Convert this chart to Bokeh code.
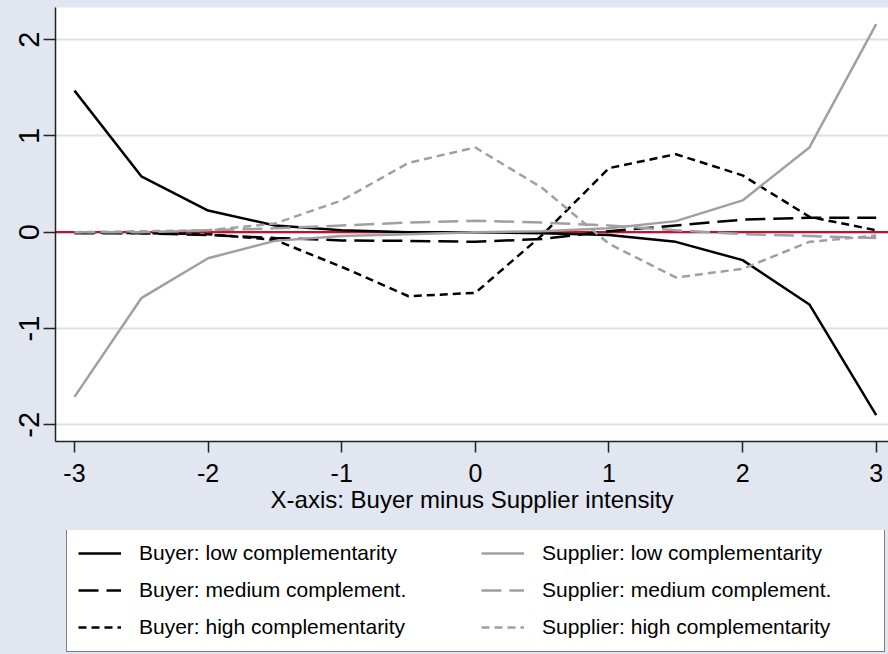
from bokeh.plotting import figure
from bokeh.layouts import column
from bokeh.models import Range1d, FixedTicker, Legend, LegendItem, Span
from bokeh.embed import file_html
from bokeh.resources import INLINE

# Horizontal axis: buyer minus supplier intensity
intensity = [-3, -2.5, -2, -1.5, -1, -0.5, 0, 0.5, 1, 1.5, 2, 2.5, 3]

# Buyer series
buyer_low = [1.47, 0.58, 0.225, 0.07, 0.02, 0.0, 0.0, -0.01, -0.03, -0.10, -0.29, -0.75, -1.90]
buyer_medium = [-0.01, -0.01, -0.03, -0.06, -0.085, -0.09, -0.10, -0.07, 0.01, 0.07, 0.13, 0.15, 0.15]
buyer_high = [0.0, -0.01, -0.02, -0.08, -0.36, -0.665, -0.63, -0.03, 0.665, 0.81, 0.59, 0.16, 0.02]

# Supplier series
supplier_low = [-1.71, -0.685, -0.27, -0.09, -0.04, -0.02, 0.0, 0.01, 0.04, 0.115, 0.33, 0.88, 2.16]
supplier_medium = [0.0, 0.0, 0.02, 0.04, 0.07, 0.10, 0.12, 0.10, 0.07, 0.02, -0.02, -0.04, -0.06]
supplier_high = [0.0, 0.01, 0.02, 0.09, 0.33, 0.72, 0.88, 0.46, -0.12, -0.47, -0.38, -0.10, -0.035]

x_ticks = [-3, -2, -1, 0, 1, 2, 3]
y_ticks = [-2, -1, 0, 1, 2]

buyer_labels = [
    "Buyer: low complementarity",
    "Buyer: medium complement.",
    "Buyer: high complementarity",
]
supplier_labels = [
    "Supplier: low complementarity",
    "Supplier: medium complement.",
    "Supplier: high complementarity",
]

FONT = "Liberation Sans"
BG = "#E1E6F0"
BLACK = "#000000"
GRAY = "#A0A0A0"
LONG_DASH = "20 8"
SHORT_DASH = "8 5"
DASHES = ["solid", LONG_DASH, SHORT_DASH]
LW = 2.5

buyer_series = [buyer_low, buyer_medium, buyer_high]
supplier_series = [supplier_low, supplier_medium, supplier_high]

# ---- main chart ----
p = figure(
    width=888, height=530,
    output_backend="svg", toolbar_location=None,
    x_range=Range1d(-3.142, 3.092), y_range=Range1d(-2.173, 2.333),
    min_border_left=55, min_border_right=0, min_border_top=7, min_border_bottom=89,
)
p.background_fill_color = "white"
p.border_fill_color = BG
p.outline_line_color = None

# zero reference line
p.add_layout(Span(location=0, dimension="width", line_color="#C8102E",
                  line_width=2.2, level="underlay"))

for ys, d in zip(buyer_series, DASHES):
    p.line(intensity, ys, line_color=BLACK, line_width=LW, line_dash=d)
for ys, d in zip(supplier_series, DASHES):
    p.line(intensity, ys, line_color=GRAY, line_width=LW, line_dash=d)

p.xaxis.ticker = FixedTicker(ticks=x_ticks)
p.yaxis.ticker = FixedTicker(ticks=y_ticks)
p.xaxis.major_label_overrides = {t: f"{t}" for t in x_ticks}
p.yaxis.major_label_overrides = {t: f"{t}" for t in y_ticks}
for ax in (p.xaxis[0], p.yaxis[0]):
    ax.axis_line_color = "#222222"
    ax.axis_line_width = 1.5
    ax.major_tick_line_color = "#222222"
    ax.major_tick_line_width = 1.5
    ax.major_tick_in = 0
    ax.minor_tick_line_color = None
    ax.major_label_text_font = FONT
    ax.major_label_text_color = "black"

p.xaxis.major_tick_out = 11
p.xaxis.major_label_text_font_size = "25px"
p.xaxis.major_label_standoff = 11
p.xaxis.axis_label = "X-axis: Buyer minus Supplier intensity"
p.xaxis.axis_label_text_font = FONT
p.xaxis.axis_label_text_font_size = "24px"
p.xaxis.axis_label_text_font_style = "normal"
p.xaxis.axis_label_text_color = "black"
p.xaxis.axis_label_standoff = 1

p.yaxis.major_tick_out = 12
p.yaxis.major_label_text_font_size = "29px"
p.yaxis.major_label_orientation = "vertical"
p.yaxis.major_label_standoff = 4

p.xgrid.grid_line_color = None
p.ygrid.grid_line_color = "#DCE2EC"
p.ygrid.grid_line_width = 2

# ---- legend strip (two columns: buyers left, suppliers right) ----
# The key's ranges lie outside the data, so only the legend shows here.
key = figure(
    width=888, height=124,
    output_backend="svg", toolbar_location=None,
    x_range=Range1d(100, 101), y_range=Range1d(100, 101),
    min_border=0, min_border_left=55,
)
key.axis.visible = False
key.grid.visible = False
key.background_fill_color = BG
key.border_fill_color = BG
key.outline_line_color = None

key_buyer = [key.line(intensity, ys, line_color=BLACK, line_width=LW, line_dash=d)
             for ys, d in zip(buyer_series, DASHES)]
key_supplier = [key.line(intensity, ys, line_color=GRAY, line_width=LW, line_dash=d)
                for ys, d in zip(supplier_series, DASHES)]

items = []
for bl, br, sl, sr in zip(buyer_labels, key_buyer, supplier_labels, key_supplier):
    items.append(LegendItem(label=bl, renderers=[br]))
    items.append(LegendItem(label=sl, renderers=[sr]))

legend = Legend(
    items=items, ncols=2, orientation="horizontal",
    location=(11, 2),
    glyph_width=43, glyph_height=26, label_height=26, label_width=331,
    label_standoff=18, spacing=11, padding=11, margin=0,
    label_text_font=FONT, label_text_font_size="21px", label_text_color="black",
    border_line_color="black", border_line_width=1,
    background_fill_color="white", background_fill_alpha=1.0,
)
key.add_layout(legend, "center")

page = column(p, key, spacing=0, styles={"background-color": BG})
open("out.html", "w").write(file_html(page, INLINE))
